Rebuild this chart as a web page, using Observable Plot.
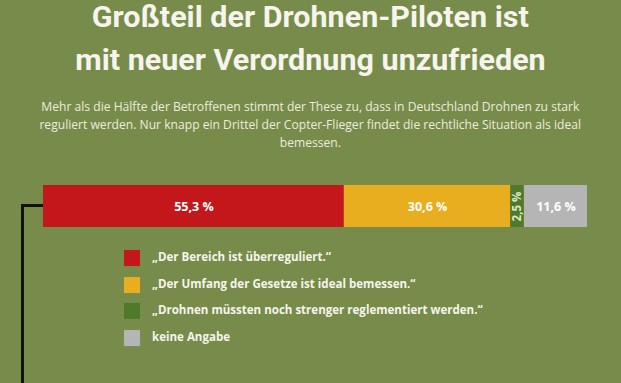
<!DOCTYPE html>
<html><head><meta charset="utf-8">
<script src="https://cdn.jsdelivr.net/npm/d3@7"></script>
<script src="https://cdn.jsdelivr.net/npm/@observablehq/plot@0.6"></script>
<style>
html,body{margin:0;padding:0;}
body{width:621px;height:383px;overflow:hidden;background:#778c4a;position:relative;}
.line{position:absolute;left:0;width:621px;text-align:center;white-space:nowrap;}
.line span{display:inline-block;transform-origin:center center;}
.t{font-family:"Roboto";font-weight:bold;font-size:29.5px;line-height:30px;height:30px;color:#f6f4ec;}
.s{font-family:"Open Sans";font-size:12.8px;line-height:18px;height:18px;color:#ecebdf;}
#chart{position:absolute;left:0;top:170px;}
#conn{position:absolute;left:21px;top:204px;width:22px;height:200px;border-left:3px solid #111;border-top:3px solid #111;box-sizing:border-box;}
#legend{position:absolute;left:124px;top:250px;font-family:"Open Sans";font-weight:bold;font-size:12px;color:#f6f4ec;}
.row{position:relative;height:26.7px;}
.sw{position:absolute;left:0;top:0;width:16px;height:16px;}
.row span{position:absolute;left:28px;top:-1px;line-height:16px;white-space:nowrap;display:inline-block;transform-origin:left center;}
</style></head>
<body>
<div id="titlebox"></div>
<div id="conn"></div>
<div id="chart"></div>
<div id="legend"></div>
<script>
const titleLines = ["Großteil der Drohnen-Piloten ist", "mit neuer Verordnung unzufrieden"];
const subtitleLines = ["Mehr als die Hälfte der Betroffenen stimmt der These zu, dass in Deutschland Drohnen zu stark", "reguliert werden. Nur knapp ein Drittel der Copter-Flieger findet die rechtliche Situation als ideal", "bemessen."];
const categories = ["„Der Bereich ist überreguliert.“", "„Der Umfang der Gesetze ist ideal bemessen.“", "„Drohnen müssten noch strenger reglementiert werden.“", "keine Angabe"];
const values = [55.3, 30.6, 2.5, 11.6];
const labels = ["55,3 %", "30,6 %", "2,5 %", "11,6 %"];
const colors = ["#c4171c", "#e9ae20", "#4e7a29", "#b5b5b5"];
const labelColors = ["#ffffff", "#ffffff", "#dfe6c6", "#ffffff"];

const data = categories.map((c, i) => ({cat: c, value: values[i], label: labels[i], lc: labelColors[i]}));

// text layout (condensed look via horizontal scaling)
const box = document.getElementById("titlebox");
function addLine(text, cls, top) {
  const d = document.createElement("div");
  d.className = "line " + cls;
  d.style.top = top + "px";
  const s = document.createElement("span");
  s.textContent = text;
  d.appendChild(s);
  box.appendChild(d);
  return s;
}
const t1 = addLine(titleLines[0], "t", 2);
const t2 = addLine(titleLines[1], "t", 45);
const tk = 437 / t1.getBoundingClientRect().width;
[t1, t2].forEach(s => s.style.transform = `scaleX(${tk})`);
const subs = subtitleLines.map((l, i) => addLine(l, "s", 96.5 + i * 18));
const sk = 538 / subs[0].getBoundingClientRect().width;
subs.forEach(s => s.style.transform = `scaleX(${sk})`);

const chart = Plot.plot({
  width: 621,
  height: 70,
  marginLeft: 43,
  marginRight: 34,
  marginTop: 15,
  marginBottom: 13,
  style: {background: "transparent", overflow: "visible"},
  x: {domain: [0, 100], axis: null},
  color: {domain: categories, range: colors},
  marks: [
    Plot.barX(data, Plot.stackX({x: "value", fill: "cat", order: null})),
    Plot.text(data, Plot.stackX({x: "value", order: null, text: d => d.value > 5 ? d.label : null, fill: "lc", fontWeight: "bold", fontSize: 12.5, fontFamily: "Open Sans", textLength: 40, lengthAdjust: "spacingAndGlyphs"})),
    Plot.text(data, Plot.stackX({x: "value", order: null, text: d => d.value <= 5 ? d.label : null, rotate: -90, fill: "lc", fontWeight: "bold", fontSize: 11.5, fontFamily: "Open Sans"}))
  ]
});
document.getElementById("chart").appendChild(chart);

const leg = document.getElementById("legend");
const spans = categories.map((c, i) => {
  const r = document.createElement("div");
  r.className = "row";
  r.innerHTML = `<div class="sw" style="background:${colors[i]}"></div><span></span>`;
  const s = r.querySelector("span");
  s.textContent = c;
  leg.appendChild(r);
  return s;
});
const lk = 179 / spans[0].getBoundingClientRect().width;
spans.forEach(s => s.style.transform = `scaleX(${lk})`);
</script>
</body></html>
